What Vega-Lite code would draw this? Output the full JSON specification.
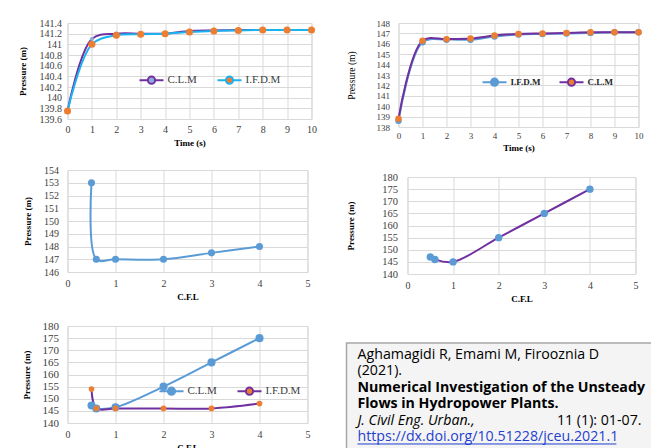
{
  "$schema": "https://vega.github.io/schema/vega-lite/v6.json",
  "background": "white",
  "padding": {"left": 17.5, "top": 17, "right": 0, "bottom": 0},
  "config": {
    "font": "Liberation Serif",
    "view": {"stroke": "#d9d9d9"},
    "axis": {
      "labelFont": "Liberation Serif", "labelFontSize": 10, "labelColor": "#404040", "labelOverlap": false, "tickCount": 50,
      "titleFont": "Liberation Serif", "titleFontSize": 9, "titleFontWeight": "bold", "titleColor": "#000000",
      "domain": false, "ticks": false, "gridColor": "#d9d9d9", "labelFlush": false
    },
    "legend": {"labelFont": "Liberation Serif", "labelColor": "#404040"}
  },
  "resolve": {
    "scale": {"stroke": "independent", "fill": "independent", "color": "independent"},
    "legend": {"stroke": "independent", "fill": "independent"}
  },
  "datasets": {
    "p1": [
      {"time": 0, "pressure": 139.75, "method": "C.L.M"},
      {"time": 1, "pressure": 141.1, "method": "C.L.M"},
      {"time": 2, "pressure": 141.2, "method": "C.L.M"},
      {"time": 3, "pressure": 141.2, "method": "C.L.M"},
      {"time": 4, "pressure": 141.2, "method": "C.L.M"},
      {"time": 5, "pressure": 141.25, "method": "C.L.M"},
      {"time": 6, "pressure": 141.26, "method": "C.L.M"},
      {"time": 7, "pressure": 141.27, "method": "C.L.M"},
      {"time": 8, "pressure": 141.27, "method": "C.L.M"},
      {"time": 9, "pressure": 141.27, "method": "C.L.M"},
      {"time": 10, "pressure": 141.27, "method": "C.L.M"},
      {"time": 0, "pressure": 139.75, "method": "I.F.D.M"},
      {"time": 1, "pressure": 141.0, "method": "I.F.D.M"},
      {"time": 2, "pressure": 141.17, "method": "I.F.D.M"},
      {"time": 3, "pressure": 141.19, "method": "I.F.D.M"},
      {"time": 4, "pressure": 141.2, "method": "I.F.D.M"},
      {"time": 5, "pressure": 141.23, "method": "I.F.D.M"},
      {"time": 6, "pressure": 141.25, "method": "I.F.D.M"},
      {"time": 7, "pressure": 141.26, "method": "I.F.D.M"},
      {"time": 8, "pressure": 141.27, "method": "I.F.D.M"},
      {"time": 9, "pressure": 141.27, "method": "I.F.D.M"},
      {"time": 10, "pressure": 141.27, "method": "I.F.D.M"}
    ],
    "p2": [
      {"time": 0, "pressure": 138.6, "method": "I.F.D.M"},
      {"time": 1, "pressure": 146.15, "method": "I.F.D.M"},
      {"time": 2, "pressure": 146.4, "method": "I.F.D.M"},
      {"time": 3, "pressure": 146.4, "method": "I.F.D.M"},
      {"time": 4, "pressure": 146.7, "method": "I.F.D.M"},
      {"time": 5, "pressure": 146.9, "method": "I.F.D.M"},
      {"time": 6, "pressure": 146.95, "method": "I.F.D.M"},
      {"time": 7, "pressure": 147.0, "method": "I.F.D.M"},
      {"time": 8, "pressure": 147.05, "method": "I.F.D.M"},
      {"time": 9, "pressure": 147.1, "method": "I.F.D.M"},
      {"time": 10, "pressure": 147.1, "method": "I.F.D.M"},
      {"time": 0, "pressure": 138.8, "method": "C.L.M"},
      {"time": 1, "pressure": 146.3, "method": "C.L.M"},
      {"time": 2, "pressure": 146.45, "method": "C.L.M"},
      {"time": 3, "pressure": 146.5, "method": "C.L.M"},
      {"time": 4, "pressure": 146.8, "method": "C.L.M"},
      {"time": 5, "pressure": 146.95, "method": "C.L.M"},
      {"time": 6, "pressure": 147.0, "method": "C.L.M"},
      {"time": 7, "pressure": 147.05, "method": "C.L.M"},
      {"time": 8, "pressure": 147.1, "method": "C.L.M"},
      {"time": 9, "pressure": 147.1, "method": "C.L.M"},
      {"time": 10, "pressure": 147.1, "method": "C.L.M"}
    ],
    "p3": [
      {"cfl": 0.5, "pressure": 153},
      {"cfl": 0.6, "pressure": 147},
      {"cfl": 1, "pressure": 147},
      {"cfl": 2, "pressure": 147},
      {"cfl": 3, "pressure": 147.5},
      {"cfl": 4, "pressure": 148}
    ],
    "p4": [
      {"cfl": 0.5, "pressure": 147},
      {"cfl": 0.6, "pressure": 146},
      {"cfl": 1, "pressure": 145},
      {"cfl": 2, "pressure": 155},
      {"cfl": 3, "pressure": 165},
      {"cfl": 4, "pressure": 175}
    ],
    "p5": [
      {"cfl": 0.5, "pressure": 147.2, "method": "C.L.M"},
      {"cfl": 0.6, "pressure": 146, "method": "C.L.M"},
      {"cfl": 1, "pressure": 146.5, "method": "C.L.M"},
      {"cfl": 2, "pressure": 155, "method": "C.L.M"},
      {"cfl": 3, "pressure": 165, "method": "C.L.M"},
      {"cfl": 4, "pressure": 175, "method": "C.L.M"},
      {"cfl": 0.5, "pressure": 154, "method": "I.F.D.M"},
      {"cfl": 0.6, "pressure": 146, "method": "I.F.D.M"},
      {"cfl": 1, "pressure": 146, "method": "I.F.D.M"},
      {"cfl": 2, "pressure": 146, "method": "I.F.D.M"},
      {"cfl": 3, "pressure": 146, "method": "I.F.D.M"},
      {"cfl": 4, "pressure": 148, "method": "I.F.D.M"}
    ],
    "ref": [
      {"line": 1, "part": "authors", "text": "Aghamagidi R, Emami M, Firooznia D"},
      {"line": 2, "part": "authors", "text": "(2021)."},
      {"line": 3, "part": "title", "text": "Numerical Investigation of the Unsteady"},
      {"line": 4, "part": "title", "text": "Flows in Hydropower Plants."},
      {"line": 5, "part": "journal", "text": "J. Civil Eng. Urban.,"},
      {"line": 5, "part": "pages", "text": "11 (1): 01-07."},
      {"line": 6, "part": "doi", "text": "https://dx.doi.org/10.51228/jceu.2021.1"}
    ]
  },
  "columns": 2,
  "align": "none",
  "bounds": "full",
  "spacing": {"row": 11, "column": 28},
  "concat": [
    {
      "width": 244, "height": 96,
      "data": {"name": "p1"},
      "layer": [
        {
          "mark": {"type": "line", "interpolate": "catmull-rom", "strokeWidth": 2},
          "encoding": {
            "x": {"field": "time", "type": "quantitative", "scale": {"domain": [0, 10], "nice": false},
                  "axis": {"values": [0,1,2,3,4,5,6,7,8,9,10], "format": "d", "tickCount": 50, "labelOverlap": false, "title": "Time (s)", "labelPadding": 5, "titlePadding": 4}},
            "y": {"field": "pressure", "type": "quantitative", "scale": {"domain": [139.6, 141.4], "zero": false, "nice": false},
                  "axis": {"values": [139.6,139.8,140,140.2,140.4,140.6,140.8,141,141.2,141.4], "tickCount": 50, "labelOverlap": false, "format": ".1~f", "title": "Pressure (m)", "labelPadding": 6, "titlePadding": 11.5}},
            "stroke": {"field": "method", "type": "nominal", "scale": {"domain": ["C.L.M", "I.F.D.M"], "range": ["#7030A0", "#1AB2F0"]},
                       "legend": {"title": null, "orient": "none", "legendX": 71, "legendY": 44, "direction": "horizontal",
                                  "symbolType": "M-1,0L-0.3,0M0.3,0L1,0M0.3,0A0.3,0.3,0,1,1,-0.3,0A0.3,0.3,0,1,1,0.3,0Z",
                                  "symbolSize": 576, "symbolStrokeWidth": 2, "labelFontSize": 11, "columnPadding": 16, "labelOffset": 3}}
          }
        },
        {
          "transform": [{"filter": "datum.method === 'C.L.M'"}],
          "mark": {"type": "point", "filled": true, "opacity": 1, "size": 18},
          "encoding": {
            "x": {"field": "time", "type": "quantitative"},
            "y": {"field": "pressure", "type": "quantitative"},
            "fill": {"field": "method", "type": "nominal", "scale": {"domain": ["C.L.M", "I.F.D.M"], "range": ["#8FAADC", "#ED7D31"]},
                     "legend": {"title": null, "orient": "none", "legendX": 71, "legendY": 44, "direction": "horizontal",
                                "symbolType": "M-1,0L-0.3,0M0.3,0L1,0M0.3,0A0.3,0.3,0,1,1,-0.3,0A0.3,0.3,0,1,1,0.3,0Z",
                                "symbolSize": 576, "symbolStrokeWidth": 2, "labelFontSize": 11, "columnPadding": 16, "labelOffset": 3}}
          }
        },
        {
          "transform": [{"filter": "datum.method === 'I.F.D.M'"}],
          "mark": {"type": "point", "filled": true, "opacity": 1, "size": 50},
          "encoding": {
            "x": {"field": "time", "type": "quantitative"},
            "y": {"field": "pressure", "type": "quantitative"},
            "fill": {"field": "method", "type": "nominal",
                     "legend": {"title": null, "orient": "none", "legendX": 71, "legendY": 44, "direction": "horizontal",
                                "symbolType": "M-1,0L-0.3,0M0.3,0L1,0M0.3,0A0.3,0.3,0,1,1,-0.3,0A0.3,0.3,0,1,1,0.3,0Z",
                                "symbolSize": 576, "symbolStrokeWidth": 2, "labelFontSize": 11, "columnPadding": 16, "labelOffset": 3}}
          }
        }
      ]
    },
    {
      "width": 240, "height": 104,
      "data": {"name": "p2"},
      "layer": [
        {
          "mark": {"type": "line", "interpolate": "catmull-rom", "strokeWidth": 2},
          "encoding": {
            "x": {"field": "time", "type": "quantitative", "scale": {"domain": [0, 10], "nice": false},
                  "axis": {"values": [0,1,2,3,4,5,6,7,8,9,10], "format": "d", "tickCount": 50, "labelOverlap": false, "title": "Time (s)", "labelFontSize": 9, "labelPadding": 4, "titlePadding": 3}},
            "y": {"field": "pressure", "type": "quantitative", "scale": {"domain": [138, 148], "zero": false, "nice": false},
                  "axis": {"values": [138,139,140,141,142,143,144,145,146,147,148], "format": "d", "tickCount": 50, "labelOverlap": false, "title": "Pressure (m)", "titleFontWeight": "normal", "titleFontSize": 9.5, "labelFontSize": 9, "labelPadding": 9, "titlePadding": 19.5}},
            "stroke": {"field": "method", "type": "nominal", "scale": {"domain": ["I.F.D.M", "C.L.M"], "range": ["#5B9BD5", "#7030A0"]},
                       "legend": {"title": null, "orient": "none", "legendX": 83, "legendY": 46, "direction": "horizontal",
                                  "symbolType": "M-1,0L-0.3,0M0.3,0L1,0M0.3,0A0.3,0.3,0,1,1,-0.3,0A0.3,0.3,0,1,1,0.3,0Z",
                                  "symbolSize": 576, "symbolStrokeWidth": 2, "labelFontSize": 9, "labelFontWeight": "bold", "labelColor": "#262626", "columnPadding": 15, "labelOffset": 3}}
          }
        },
        {
          "mark": {"type": "point", "filled": true, "opacity": 1, "size": 42},
          "encoding": {
            "x": {"field": "time", "type": "quantitative"},
            "y": {"field": "pressure", "type": "quantitative"},
            "fill": {"field": "method", "type": "nominal", "scale": {"domain": ["I.F.D.M", "C.L.M"], "range": ["#5B9BD5", "#ED7D31"]},
                     "legend": {"title": null, "orient": "none", "legendX": 83, "legendY": 46, "direction": "horizontal",
                                "symbolType": "M-1,0L-0.3,0M0.3,0L1,0M0.3,0A0.3,0.3,0,1,1,-0.3,0A0.3,0.3,0,1,1,0.3,0Z",
                                "symbolSize": 576, "symbolStrokeWidth": 2, "labelFontSize": 9, "labelFontWeight": "bold", "labelColor": "#262626", "columnPadding": 15, "labelOffset": 3}}
          }
        }
      ]
    },
    {
      "width": 240, "height": 102,
      "data": {"name": "p3"},
      "layer": [
        {
          "mark": {"type": "line", "interpolate": "catmull-rom", "strokeWidth": 2, "color": "#5B9BD5"},
          "encoding": {
            "x": {"field": "cfl", "type": "quantitative", "scale": {"domain": [0, 5], "nice": false},
                  "axis": {"values": [0,1,2,3,4,5], "format": "d", "tickCount": 50, "labelOverlap": false, "title": "C.F.L", "labelPadding": 6, "titlePadding": 4}},
            "y": {"field": "pressure", "type": "quantitative", "scale": {"domain": [146, 154], "zero": false, "nice": false},
                  "axis": {"values": [146,147,148,149,150,151,152,153,154], "format": "d", "tickCount": 50, "labelOverlap": false, "title": "Pressure (m)", "labelPadding": 9, "titlePadding": 11.5}}
          }
        },
        {
          "mark": {"type": "point", "filled": true, "opacity": 1, "color": "#5B9BD5", "size": 50},
          "encoding": {
            "x": {"field": "cfl", "type": "quantitative"},
            "y": {"field": "pressure", "type": "quantitative"}
          }
        }
      ]
    },
    {
      "width": 228, "height": 97,
      "title": {"text": " ", "fontSize": 4, "offset": 3},
      "data": {"name": "p4"},
      "layer": [
        {
          "mark": {"type": "line", "interpolate": "catmull-rom", "strokeWidth": 2, "color": "#7030A0"},
          "encoding": {
            "x": {"field": "cfl", "type": "quantitative", "scale": {"domain": [0, 5], "nice": false},
                  "axis": {"values": [0,1,2,3,4,5], "format": "d", "tickCount": 50, "labelOverlap": false, "title": "C.F.L", "labelPadding": 6, "titlePadding": 4}},
            "y": {"field": "pressure", "type": "quantitative", "scale": {"domain": [140, 180], "zero": false, "nice": false},
                  "axis": {"values": [140,145,150,155,160,165,170,175,180], "format": "d", "tickCount": 50, "labelOverlap": false, "title": "Pressure (m)", "labelFontSize": 10.5, "labelPadding": 10, "titlePadding": 26.4}}
          }
        },
        {
          "mark": {"type": "point", "filled": true, "opacity": 1, "color": "#5B9BD5", "size": 55},
          "encoding": {
            "x": {"field": "cfl", "type": "quantitative"},
            "y": {"field": "pressure", "type": "quantitative"}
          }
        }
      ]
    },
    {
      "width": 240, "height": 97,
      "title": {"text": " ", "fontSize": 4, "offset": 2},
      "data": {"name": "p5"},
      "layer": [
        {
          "mark": {"type": "line", "interpolate": "catmull-rom", "strokeWidth": 2},
          "encoding": {
            "x": {"field": "cfl", "type": "quantitative", "scale": {"domain": [0, 5], "nice": false},
                  "axis": {"values": [0,1,2,3,4,5], "format": "d", "tickCount": 50, "labelOverlap": false, "title": "C.F.L", "labelPadding": 6, "titlePadding": 4}},
            "y": {"field": "pressure", "type": "quantitative", "scale": {"domain": [140, 180], "zero": false, "nice": false},
                  "axis": {"values": [140,145,150,155,160,165,170,175,180], "format": "d", "tickCount": 50, "labelOverlap": false, "title": "Pressure (m)", "labelFontSize": 11, "labelPadding": 9, "titlePadding": 10.5}},
            "stroke": {"field": "method", "type": "nominal", "scale": {"domain": ["C.L.M", "I.F.D.M"], "range": ["#5B9BD5", "#7030A0"]},
                       "legend": {"title": null, "orient": "none", "legendX": 91, "legendY": 52, "direction": "horizontal",
                                  "symbolType": "M-1,0L-0.3,0M0.3,0L1,0M0.3,0A0.3,0.3,0,1,1,-0.3,0A0.3,0.3,0,1,1,0.3,0Z",
                                  "symbolSize": 576, "symbolStrokeWidth": 2, "labelFontSize": 11, "columnPadding": 16, "labelOffset": 3}}
          }
        },
        {
          "transform": [{"filter": "datum.method === 'C.L.M'"}],
          "mark": {"type": "point", "filled": true, "opacity": 1, "size": 65},
          "encoding": {
            "x": {"field": "cfl", "type": "quantitative"},
            "y": {"field": "pressure", "type": "quantitative"},
            "fill": {"field": "method", "type": "nominal", "scale": {"domain": ["C.L.M", "I.F.D.M"], "range": ["#5B9BD5", "#ED7D31"]},
                     "legend": {"title": null, "orient": "none", "legendX": 91, "legendY": 52, "direction": "horizontal",
                                "symbolType": "M-1,0L-0.3,0M0.3,0L1,0M0.3,0A0.3,0.3,0,1,1,-0.3,0A0.3,0.3,0,1,1,0.3,0Z",
                                "symbolSize": 576, "symbolStrokeWidth": 2, "labelFontSize": 11, "columnPadding": 16, "labelOffset": 3}}
          }
        },
        {
          "transform": [{"filter": "datum.method === 'I.F.D.M'"}],
          "mark": {"type": "point", "filled": true, "opacity": 1, "size": 32},
          "encoding": {
            "x": {"field": "cfl", "type": "quantitative"},
            "y": {"field": "pressure", "type": "quantitative"},
            "fill": {"field": "method", "type": "nominal",
                     "legend": {"title": null, "orient": "none", "legendX": 91, "legendY": 52, "direction": "horizontal",
                                "symbolType": "M-1,0L-0.3,0M0.3,0L1,0M0.3,0A0.3,0.3,0,1,1,-0.3,0A0.3,0.3,0,1,1,0.3,0Z",
                                "symbolSize": 576, "symbolStrokeWidth": 2, "labelFontSize": 11, "columnPadding": 16, "labelOffset": 3}}
          }
        }
      ]
    },
    {
      "width": 306, "height": 110,
      "title": {"text": " ", "fontSize": 14, "offset": 7.5},
      "view": {"fill": "#f4f4f4", "stroke": "#a6a6a6", "strokeWidth": 1.5},
      "data": {"name": "ref"},
      "encoding": {
        "y": {"field": "line", "type": "quantitative", "scale": {"domain": [0.27, 6.98], "reverse": true, "zero": false, "nice": false}, "axis": null}
      },
      "layer": [
        {
          "transform": [{"filter": "datum.part === 'authors'"}],
          "mark": {"type": "text", "align": "left", "dx": 11, "font": "Open Sans", "fontSize": 14.2, "color": "#000000"},
          "encoding": {
            "x": {"datum": 0, "type": "quantitative", "scale": {"domain": [0, 1], "nice": false, "zero": false}, "axis": null},
            "text": {"field": "text"}
          }
        },
        {
          "transform": [{"filter": "datum.part === 'title'"}],
          "mark": {"type": "text", "align": "left", "dx": 11, "font": "Open Sans", "fontSize": 14.2, "fontWeight": "bold", "color": "#000000"},
          "encoding": {
            "x": {"datum": 0, "type": "quantitative"},
            "text": {"field": "text"}
          }
        },
        {
          "transform": [{"filter": "datum.part === 'journal'"}],
          "mark": {"type": "text", "align": "left", "dx": 11, "font": "Open Sans", "fontSize": 14.2, "fontStyle": "italic", "color": "#000000"},
          "encoding": {
            "x": {"datum": 0, "type": "quantitative"},
            "text": {"field": "text"}
          }
        },
        {
          "transform": [{"filter": "datum.part === 'pages'"}],
          "mark": {"type": "text", "align": "right", "dx": -11, "font": "Open Sans", "fontSize": 14.2, "color": "#000000"},
          "encoding": {
            "x": {"datum": 1, "type": "quantitative"},
            "text": {"field": "text"}
          }
        },
        {
          "transform": [{"filter": "datum.part === 'doi'"}],
          "mark": {"type": "text", "align": "left", "dx": 11, "font": "Open Sans", "fontSize": 14.2, "color": "#1F3FD0"},
          "encoding": {
            "x": {"datum": 0, "type": "quantitative"},
            "text": {"field": "text"}
          }
        },
        {
          "transform": [{"filter": "datum.part === 'doi'"}],
          "mark": {"type": "rule", "color": "#1F3FD0", "strokeWidth": 1},
          "encoding": {
            "x": {"datum": 0.036, "type": "quantitative"},
            "x2": {"datum": 0.882},
            "y": {"datum": 6.43, "type": "quantitative"}
          }
        }
      ]
    }
  ]
}
